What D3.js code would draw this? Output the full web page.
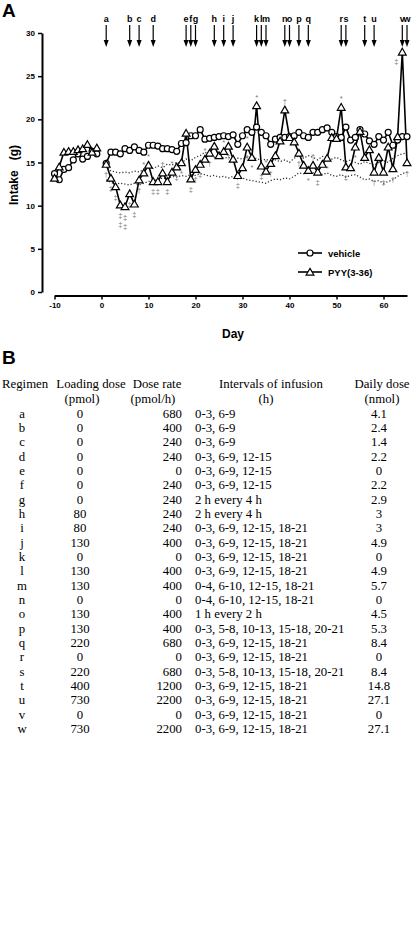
<!DOCTYPE html>
<html><head><meta charset="utf-8">
<script src="https://cdn.jsdelivr.net/npm/d3@7"></script>
<style>body{margin:0;background:#fff} svg{display:block;background:#fff}</style>
</head><body><svg id="c" width="413" height="940"></svg>
<script>
// ---------- DATA ----------
const preDays = [-10,-9,-8,-7,-6,-5,-4,-3,-2,-1];
const preVehicle = [13.7,13.0,14.2,14.4,15.3,16.0,15.4,15.7,16.3,16.0];
const prePYY = [13.2,14.5,16.2,16.3,16.3,16.5,16.6,17.1,16.2,16.7];

const postDays = d3.range(1, 66);
const postVehicle = [14.9,16.2,16.2,16.0,16.6,16.4,16.8,16.4,16.2,17.0,
  17.0,16.9,16.6,16.6,16.5,16.3,17.2,17.3,18.1,18.1,
  18.8,17.7,17.8,17.9,18.0,18.1,18.0,18.2,17.1,18.1,
  18.8,18.5,19.1,18.5,18.1,17.1,17.7,17.9,17.9,18.0,
  18.1,18.5,18.1,17.9,18.5,18.5,18.8,19.0,18.5,18.0,
  17.9,19.1,17.6,17.9,18.8,18.3,17.5,17.1,18.0,17.6,
  18.5,17.0,17.6,18.0,18.0];
const postPYY = [14.8,13.2,12.2,10.1,9.9,11.4,10.2,13.0,13.8,14.7,
  12.8,12.8,13.8,12.8,13.9,14.5,15.0,18.4,13.1,14.2,
  14.8,15.4,16.1,16.9,15.8,16.3,16.9,15.4,13.5,14.4,
  16.8,15.6,21.6,14.6,14.0,14.9,15.8,17.5,21.1,17.9,
  17.4,16.1,14.7,14.1,14.7,13.9,14.8,15.5,17.9,17.8,
  21.4,14.5,14.4,16.8,18.6,15.6,16.5,13.9,15.6,13.9,
  16.8,14.3,18.0,27.8,15.0];
const dottedUpper = [14.7,14.0,13.9,13.8,13.9,13.8,14.0,13.9,14.2,14.5,
  14.3,14.6,14.4,14.8,14.7,15.0,14.9,15.4,15.2,15.6,
  15.8,16.2,15.9,15.6,15.8,15.5,15.6,15.3,15.5,15.4,
  15.6,15.3,15.5,15.2,15.4,15.0,15.3,15.1,15.3,15.0,
  15.5,15.8,15.5,15.8,15.6,15.3,15.7,15.5,15.4,15.6,
  15.3,15.1,15.3,15.0,14.8,15.1,14.9,14.7,15.0,15.2,
  15.0,15.5,15.8,16.0,16.1];
const dottedLower = [13.0,12.7,12.5,12.6,12.5,12.4,12.6,12.4,12.6,12.8,
  12.9,13.0,13.2,13.1,13.4,13.3,13.5,13.4,13.6,13.5,
  13.7,13.6,13.4,13.5,13.3,13.4,13.2,13.4,13.1,13.2,
  13.0,12.9,12.8,12.7,12.6,12.9,13.1,13.0,13.2,13.1,
  13.4,13.8,13.7,13.9,13.8,13.9,13.6,13.8,13.5,13.4,
  13.6,13.3,13.5,13.6,13.3,13.0,13.1,12.8,12.9,12.6,
  12.8,13.0,13.4,13.7,13.9];

// significance marks: day, symbol, side (a = above PYY point, b = below, l = left), stack level
const sigDays  = [1,2,3,4,4,5,5,6,7,8,9,10,11,12,13,14,15,16,17,19,20,21,22,23,24,26,27,29,31,31,32,33,34,35,36,39,42,44,45,46,48,51,52,54,58,60,62,64,65];
const sigSyms  = ['†','‡','‡','‡','‡','‡','‡','‡','‡','†','*','*','‡','‡','†','‡','*','‡','*','‡','†','‡','*','†','*','*','†','‡','*','†','*','*','‡','*','†','†','†','*','†','‡','*','*','‡','*','†','‡','†','‡','†'];
const sigSide  = ['b','b','b','b','b','b','b','b','b','b','a','a','b','b','a','b','a','b','b','b','b','b','a','b','a','a','b','b','a','b','b','a','b','a','b','a','b','b','a','b','b','a','b','b','b','b','b','l','b'];
const sigLevel = [0,0,0,0,1,0,1,0,0,0,0,0,0,0,0,0,0,0,0,0,0,0,0,0,0,0,0,0,0,0,0,0,0,0,0,0,0,0,0,0,0,0,0,0,0,0,0,0,0];

const regimenLetters = ['a','b','c','d','e','f','g','h','i','j','k','l','m','n','o','p','q','r','s','t','u','v','w'];
const regimenDays = [1,6,8,11,18,19,20,24,26,28,33,34,35,39,40,42,44,51,52,56,58,64,65];
const loadingDose = [0,0,0,0,0,0,0,80,80,130,0,130,130,0,130,130,220,0,220,400,730,0,730];
const doseRate = [680,400,240,240,0,240,240,240,240,400,0,400,400,0,400,400,680,0,680,1200,2200,0,2200];
const intervals = ['0-3, 6-9','0-3, 6-9','0-3, 6-9','0-3, 6-9, 12-15','0-3, 6-9, 12-15','0-3, 6-9, 12-15',
  '2 h every 4 h','2 h every 4 h','0-3, 6-9, 12-15, 18-21','0-3, 6-9, 12-15, 18-21','0-3, 6-9, 12-15, 18-21',
  '0-3, 6-9, 12-15, 18-21','0-4, 6-10, 12-15, 18-21','0-4, 6-10, 12-15, 18-21','1 h every 2 h',
  '0-3, 5-8, 10-13, 15-18, 20-21','0-3, 6-9, 12-15, 18-21','0-3, 6-9, 12-15, 18-21','0-3, 5-8, 10-13, 15-18, 20-21',
  '0-3, 6-9, 12-15, 18-21','0-3, 6-9, 12-15, 18-21','0-3, 6-9, 12-15, 18-21','0-3, 6-9, 12-15, 18-21'];
const dailyDose = ['4.1','2.4','1.4','2.2','0','2.2','2.9','3','3','4.9','0','4.9','5.7','0','4.5','5.3','8.4','0','8.4','14.8','27.1','0','27.1'];

const yTicks = [0,5,10,15,20,25,30];
const xTicks = [-10,0,10,20,30,40,50,60];
const seriesNames = ['vehicle','PYY(3-36)'];

// ---------- DRAW ----------
const svg = d3.select('#c');
const SANS = '"Liberation Sans", Arial, sans-serif';
const SERIF = '"Liberation Serif", "Times New Roman", serif';

const x = d3.scaleLinear().domain([-10, 65]).range([54.5, 407]);
const y = d3.scaleLinear().domain([0, 30]).range([292, 33]);

svg.append('text').attr('x', 2).attr('y', 17).text('A')
  .style('font-family', SANS).style('font-weight', 'bold').style('font-size', '19px');

// axes
const yAx = svg.append('g').attr('transform', 'translate(42,0)')
  .call(d3.axisLeft(y).tickValues(yTicks).tickSize(4).tickSizeOuter(0).tickPadding(3));
yAx.select('.domain').attr('stroke-width', 2);
yAx.selectAll('.tick line').attr('stroke-width', 1.5);
yAx.selectAll('text').style('font-family', SANS).style('font-weight', 'bold').style('font-size', '8px');

const xAx = svg.append('g').attr('transform', 'translate(0,295.5)')
  .call(d3.axisBottom(x).tickValues(xTicks).tickFormat(d => String(d)).tickSize(4).tickSizeOuter(0).tickPadding(3));
xAx.select('.domain').attr('stroke-width', 2);
xAx.selectAll('.tick line').attr('stroke-width', 1.5);
xAx.selectAll('text').style('font-family', SANS).style('font-weight', 'bold').style('font-size', '8px');

svg.append('text').attr('x', 233).attr('y', 338).attr('text-anchor', 'middle').text('Day')
  .style('font-family', SANS).style('font-weight', 'bold').style('font-size', '12px');
svg.append('text').attr('transform', 'translate(18,175) rotate(-90)').attr('text-anchor', 'middle')
  .attr('xml:space', 'preserve').text('Intake   (g)')
  .style('font-family', SANS).style('font-weight', 'bold').style('font-size', '12px');

// arrows
const arr = svg.append('g');
regimenLetters.forEach((L, i) => {
  const ax = x(regimenDays[i]);
  arr.append('text').attr('x', ax).attr('y', 22).attr('text-anchor', 'middle').text(L)
    .style('font-family', SANS).style('font-weight', 'bold').style('font-size', '9px');
  arr.append('line').attr('x1', ax).attr('x2', ax).attr('y1', 25).attr('y2', 41)
    .attr('stroke', '#000').attr('stroke-width', 1.2);
  arr.append('path').attr('d', `M${ax-2.5},40L${ax+2.5},40L${ax},47Z`).attr('fill', '#000');
});

// dotted lines
const line = d3.line().x(d => x(d[0])).y(d => y(d[1]));
const zip = (a, b) => a.map((v, i) => [v, b[i]]);
[dottedUpper, dottedLower].forEach(arrv => {
  svg.append('path').attr('d', line(zip(postDays, arrv))).attr('fill', 'none')
    .attr('stroke', '#333').attr('stroke-width', 1.3).attr('stroke-dasharray', '1.2,2');
});

// significance
const pyyByDay = new Map(zip(postDays, postPYY));
sigDays.forEach((d, i) => {
  const v = pyyByDay.get(d);
  let sx = x(d), sy;
  if (sigSide[i] === 'a') sy = y(v) - 6;
  else if (sigSide[i] === 'l') { sx = x(d) - 6; sy = y(v) + 12; }
  else sy = y(v) + 13 + sigLevel[i] * 9;
  svg.append('text').attr('x', sx).attr('y', sy).attr('text-anchor', 'middle').text(sigSyms[i])
    .style('font-family', SANS).style('font-size', '7.5px').attr('fill', '#777');
});

// series lines
const vehPre = zip(preDays, preVehicle), vehPost = zip(postDays, postVehicle);
const pyyPre = zip(preDays, prePYY), pyyPost = zip(postDays, postPYY);
[vehPre, vehPost, pyyPre, pyyPost].forEach(s => {
  svg.append('path').attr('d', line(s)).attr('fill', 'none').attr('stroke', '#000').attr('stroke-width', 1.6);
});
const tri = d3.symbol().type(d3.symbolTriangle).size(26);
function drawCircles(s) {
  svg.append('g').selectAll('circle').data(s).join('circle')
    .attr('cx', d => x(d[0])).attr('cy', d => y(d[1])).attr('r', 3)
    .attr('fill', '#fff').attr('stroke', '#000').attr('stroke-width', 1.2);
}
function drawTris(s) {
  svg.append('g').selectAll('path').data(s).join('path')
    .attr('transform', d => `translate(${x(d[0])},${y(d[1]) + 0.8})`).attr('d', tri)
    .attr('fill', '#fff').attr('stroke', '#000').attr('stroke-width', 1.2);
}
drawCircles(vehPre); drawCircles(vehPost);
drawTris(pyyPre); drawTris(pyyPost);

// legend
const lg = svg.append('g');
seriesNames.forEach((n, i) => {
  const ly = 253 + i * 19;
  lg.append('line').attr('x1', 298).attr('x2', 322).attr('y1', ly).attr('y2', ly)
    .attr('stroke', '#000').attr('stroke-width', 1.6);
  if (i === 0) lg.append('circle').attr('cx', 310).attr('cy', ly).attr('r', 3)
    .attr('fill', '#fff').attr('stroke', '#000').attr('stroke-width', 1.2);
  else lg.append('path').attr('transform', `translate(310,${ly + 0.8})`).attr('d', tri)
    .attr('fill', '#fff').attr('stroke', '#000').attr('stroke-width', 1.2);
  lg.append('text').attr('x', 328).attr('y', ly + 3.5).text(n)
    .style('font-family', SANS).style('font-weight', 'bold').style('font-size', '9.5px');
});

// ---------- TABLE B ----------
svg.append('text').attr('x', 2).attr('y', 364).text('B')
  .style('font-family', SANS).style('font-weight', 'bold').style('font-size', '19px');
const tb = svg.append('g').style('font-family', SERIF).style('font-size', '12.8px');
const hdr = [
  ['Regimen', 2, 'start', '', 0],
  ['Loading dose', 91, 'middle', '(pmol)', 82],
  ['Dose rate', 157, 'middle', '(pmol/h)', 153],
  ['Intervals of infusion', 271, 'middle', '(h)', 266],
  ['Daily dose', 382, 'middle', '(nmol)', 382]
];
hdr.forEach(h => {
  tb.append('text').attr('x', h[1]).attr('y', 388).attr('text-anchor', h[2]).text(h[0]);
  if (h[3]) tb.append('text').attr('x', h[4]).attr('y', 402.5).attr('text-anchor', 'middle').text(h[3]);
});
const rowY = d3.scaleLinear().domain([0, regimenLetters.length - 1]).range([417.5, 733]);
regimenLetters.forEach((L, i) => {
  const ry = rowY(i);
  tb.append('text').attr('x', 22).attr('y', ry).attr('text-anchor', 'middle').text(L);
  tb.append('text').attr('x', 80).attr('y', ry).attr('text-anchor', 'middle').text(loadingDose[i]);
  tb.append('text').attr('x', 182).attr('y', ry).attr('text-anchor', 'end').text(doseRate[i]);
  tb.append('text').attr('x', 195).attr('y', ry).attr('text-anchor', 'start').text(intervals[i]);
  tb.append('text').attr('x', 379).attr('y', ry).attr('text-anchor', 'middle').text(dailyDose[i]);
});
</script></body></html>
